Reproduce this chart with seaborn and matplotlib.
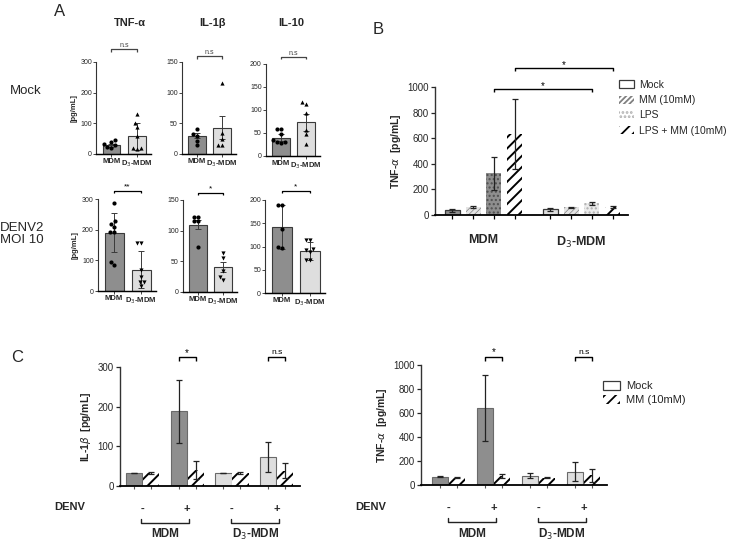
import warnings
warnings.filterwarnings('ignore')
import matplotlib
matplotlib.use('Agg')
import numpy as np
import pandas as pd
import matplotlib.pyplot as plt
import seaborn as sns
from matplotlib.patches import Patch

# ---------------- data ----------------
A_groups = ['MDM', 'D$_3$-MDM']
A_titles = ['TNF-α', 'IL-1β', 'IL-10']
A_ymax = [300, 150, 200]
A_ystep = [100, 50, 50]

mock_means = [[28, 58], [30, 43], [40, 73]]
mock_errs = [[6, 44], [4, 19], [8, 18]]
mock_tnf_mdm = [45, 38, 32, 28, 24, 20]
mock_tnf_d3 = [132, 100, 88, 60, 20, 15, 18]
mock_il1b_mdm = [40, 33, 30, 22, 15]
mock_il1b_d3 = [115, 35, 25, 15, 15]
mock_il10_mdm = [58, 58, 48, 35, 30, 30, 28]
mock_il10_d3 = [117, 113, 93, 57, 48, 25]
mock_sig = ['n.s', 'n.s', 'n.s']

denv_means = [[190, 70], [110, 41], [142, 90]]
denv_errs = [[63, 60], [8, 8], [47, 20]]
denv_tnf_mdm = [288, 228, 220, 210, 192, 192, 95, 85]
denv_tnf_d3 = [155, 155, 68, 45, 30, 28, 15]
denv_il1b_mdm = [122, 122, 115, 115, 73]
denv_il1b_d3 = [63, 55, 35, 25, 20]
denv_il10_mdm = [190, 190, 138, 97, 98]
denv_il10_d3 = [115, 115, 95, 93, 88, 70, 70]
denv_sig = ['**', '*', '*']

B_groups = ['MDM', 'D$_3$-MDM']
B_conds = ['Mock', 'MM (10mM)', 'LPS', 'LPS + MM (10mM)']
B_mdm = [38, 60, 325, 635]
B_d3 = [45, 60, 90, 60]
B_mdm_err = [11, 8, 130, 275]
B_d3_err = [13, 5, 15, 8]

C_cats = ['MDM -', 'MDM +', 'D3 -', 'D3 +']
C_ticklabels = ['-', '+', '-', '+']
C_treat = ['Mock', 'MM (10mM)']
C_il1b_mock = [33, 188, 33, 73]
C_il1b_mm = [33, 40, 33, 38]
C_il1b_mock_err = [1, 79, 0, 38]
C_il1b_mm_err = [2, 23, 2, 19]
C_tnf_mock = [70, 640, 78, 112]
C_tnf_mm = [62, 75, 60, 80]
C_tnf_mock_err = [5, 275, 22, 77]
C_tnf_mm_err = [3, 15, 5, 53]

# ---------------- style ----------------
sns.set_theme(style='ticks')
plt.rcParams['font.family'] = ['Liberation Sans', 'DejaVu Sans']
plt.rcParams['hatch.linewidth'] = 1.3
DARK = '#8e8e8e'
LIGHT = '#dedede'
EDGE = '#3a3a3a'
HATCH_WIDE = '///'
HATCH_DENSE = '//////'

W, H = 733, 543
fig = plt.figure(figsize=(W / 100, H / 100), dpi=100)


def add_ax(x0, x1, ytop, ybot):
    return fig.add_axes([x0 / W, 1 - ybot / H, (x1 - x0) / W, (ybot - ytop) / H])


def ftext(x, y, s, **kw):
    fig.text(x / W, 1 - y / H, s, **kw)


def set_hlw(p, lw):
    if hasattr(p, 'set_hatch_linewidth'):
        try:
            p.set_hatch_linewidth(lw)
        except Exception:
            pass


def bracket(ax, x0, x1, y, h, text, fs, color='black', lw=0.9, dy=0.0):
    tr = ax.get_xaxis_transform()
    ax.plot([x0, x0, x1, x1], [y - h, y, y, y - h], transform=tr, color=color,
            lw=lw, clip_on=False, solid_capstyle='butt')
    ax.text((x0 + x1) / 2, y + dy, text, transform=tr, ha='center', va='bottom',
            fontsize=fs, color=color)


def style_axes(ax, lw=1.0):
    sns.despine(ax=ax)
    ax.spines['left'].set_linewidth(lw)
    ax.spines['bottom'].set_linewidth(lw * 1.3)
    ax.spines['left'].set_color('#333333')
    ax.spines['bottom'].set_color('black')


# ---------------- Panel A ----------------
mock_pts = [(mock_tnf_mdm, mock_tnf_d3), (mock_il1b_mdm, mock_il1b_d3), (mock_il10_mdm, mock_il10_d3)]
denv_pts = [(denv_tnf_mdm, denv_tnf_d3), (denv_il1b_mdm, denv_il1b_d3), (denv_il10_mdm, denv_il10_d3)]
mock_boxes = [(96.2, 151, 62, 154), (182, 236, 62, 154), (266, 320, 64, 156)]
denv_boxes = [(97.8, 156, 199, 291), (183, 237, 200, 292), (265.2, 325.4, 200, 293)]
mock_br = [1.14, 1.06, 1.08]
denv_br = [1.09, 1.08, 1.10]


def draw_A(ax, means, errs, pts, dmarker, ymax, step, sig, bry, ylabel):
    sns.barplot(x=A_groups, y=means, hue=A_groups, order=A_groups, hue_order=A_groups,
                palette=[DARK, LIGHT], legend=False, width=0.7, errorbar=None,
                edgecolor=EDGE, linewidth=0.8, ax=ax)
    ax.errorbar([0, 1], means, yerr=errs, fmt='none', ecolor=EDGE, elinewidth=0.7,
                capsize=2, capthick=0.7, zorder=3)
    sns.swarmplot(x=[A_groups[0]] * len(pts[0]), y=pts[0], order=A_groups, color='black',
                  marker='o', size=3.0, ax=ax, zorder=4)
    sns.swarmplot(x=[A_groups[1]] * len(pts[1]), y=pts[1], order=A_groups, color='black',
                  marker=dmarker, size=3.0, ax=ax, zorder=4)
    ax.set_xlim(-0.6, 1.55)
    ax.set_ylim(0, ymax)
    ax.set_yticks(np.arange(0, ymax + 1, step))
    ax.tick_params(axis='y', labelsize=5, length=2, width=0.6, pad=1)
    ax.tick_params(axis='x', labelsize=5.5, length=2, width=0.6, pad=1)
    for t in ax.get_xticklabels():
        t.set_fontweight('bold')
    ax.set_xlabel('')
    if ylabel:
        ax.set_ylabel('[pg/mL]', fontsize=5.5, fontweight='bold', labelpad=2)
    else:
        ax.set_ylabel('')
    style_axes(ax, 0.8)
    bracket(ax, 0, 1, bry, 0.03, sig, 6 if sig != 'n.s' else 5,
            color='black' if sig != 'n.s' else '#444444', lw=0.9)


for i in range(3):
    ax = add_ax(*mock_boxes[i])
    draw_A(ax, mock_means[i], mock_errs[i], mock_pts[i], '^', A_ymax[i], A_ystep[i],
           mock_sig[i], mock_br[i], i == 0)
    ax = add_ax(*denv_boxes[i])
    draw_A(ax, denv_means[i], denv_errs[i], denv_pts[i], 'v', A_ymax[i], A_ystep[i],
           denv_sig[i], denv_br[i], i == 0)

for x, t in zip([130, 212, 291], A_titles):
    ftext(x, 23, t, ha='center', va='center', fontsize=8, fontweight='bold')
ftext(60, 12, 'A', ha='center', va='center', fontsize=12)
ftext(10, 91, 'Mock', ha='left', va='center', fontsize=9.5)
ftext(0, 234, 'DENV2\nMOI 10', ha='left', va='center', fontsize=9.5, linespacing=1.1)

# ---------------- Panel B ----------------
axB = add_ax(435, 628, 87, 215)
dfB = pd.DataFrame({'group': np.repeat(B_groups, len(B_conds)),
                    'cond': B_conds * len(B_groups),
                    'value': B_mdm + B_d3})
sns.barplot(data=dfB, x='group', y='value', hue='cond', order=B_groups, hue_order=B_conds,
            width=0.85, gap=0.28, errorbar=None, legend=False, ax=axB)
B_errs = [B_mdm_err, B_d3_err]
B_face = {'Mock': [DARK, LIGHT], 'MM (10mM)': ['#e4e4e4', '#e4e4e4'],
          'LPS': [DARK, '#ececec'], 'LPS + MM (10mM)': ['white', 'white']}
B_hatch = {'Mock': None, 'MM (10mM)': HATCH_DENSE, 'LPS': '....', 'LPS + MM (10mM)': HATCH_WIDE}
B_hcol = {'Mock': [EDGE, EDGE], 'MM (10mM)': ['#808080', '#808080'],
          'LPS': ['#505050', '#b0b0b0'], 'LPS + MM (10mM)': ['black', 'black']}
B_lw = {'Mock': 0.9, 'MM (10mM)': 0.0, 'LPS': 0.0, 'LPS + MM (10mM)': 0.0}
B_hlw = {'Mock': 1.0, 'MM (10mM)': 0.5, 'LPS': 1.0, 'LPS + MM (10mM)': 1.4}
bar_x = {}
for ci, cond in enumerate(B_conds):
    cont = axB.containers[ci]
    for gi, p in enumerate(cont.patches):
        p.set_facecolor(B_face[cond][gi])
        p.set_edgecolor(B_hcol[cond][gi])
        p.set_linewidth(B_lw[cond])
        if B_hatch[cond]:
            p.set_hatch(B_hatch[cond])
            set_hlw(p, B_hlw[cond])
        xc = p.get_x() + p.get_width() / 2
        bar_x[(gi, ci)] = xc
        axB.errorbar([xc], [p.get_height()], yerr=[B_errs[gi][ci]], fmt='none', ecolor='#222222',
                     elinewidth=0.9, capsize=2.2, capthick=0.9, zorder=3)
axB.set_ylim(0, 1000)
axB.set_yticks(np.arange(0, 1001, 200))
axB.set_xlim(-0.495, 1.475)
axB.set_xticks([0, 1])
axB.set_xticklabels(B_groups, fontsize=9, fontweight='bold')
axB.set_xticks(sorted(bar_x.values()), minor=True)
axB.tick_params(axis='x', which='major', length=0, pad=14)
axB.tick_params(axis='x', which='minor', length=3, width=0.9, color='black')
axB.tick_params(axis='y', labelsize=7, length=3, width=0.9, pad=1.5)
axB.set_xlabel('')
axB.set_ylabel('TNF-$\\alpha$  [pg/mL]', fontsize=7.5, fontweight='bold', labelpad=3)
style_axes(axB, 1.0)
bracket(axB, bar_x[(0, 2)], bar_x[(1, 2)], 0.982, 0.02, '*', 7, lw=1.0, dy=-0.01)
bracket(axB, bar_x[(0, 3)], bar_x[(1, 3)], 1.146, 0.02, '*', 7, lw=1.0, dy=-0.01)
ftext(378, 30, 'B', ha='center', va='center', fontsize=12)
hB = [Patch(facecolor='white', edgecolor=EDGE, linewidth=0.9, label=B_conds[0]),
      Patch(facecolor='white', edgecolor='#808080', linewidth=0, hatch=HATCH_DENSE, label=B_conds[1]),
      Patch(facecolor='white', edgecolor='#b0b0b0', linewidth=0, hatch='....', label=B_conds[2]),
      Patch(facecolor='white', edgecolor='black', linewidth=0, hatch=HATCH_WIDE, label=B_conds[3])]
for p, w in zip(hB, [1.0, 0.5, 1.0, 1.4]):
    set_hlw(p, w)
fig.legend(handles=hB, loc='upper left', bbox_to_anchor=(619 / W, 1 - 80 / H),
           frameon=False, fontsize=7.5, handlelength=1.4, handleheight=0.8,
           handletextpad=0.5, labelspacing=0.5, borderaxespad=0, borderpad=0)


# ---------------- Panel C ----------------
def draw_C(ax, mock, mm, mock_err, mm_err, ymax, step, ylabel, xlim, brk_y, ub_y, lab_y):
    df = pd.DataFrame({'cat': C_cats * 2, 'treat': np.repeat(C_treat, len(C_cats)),
                       'value': mock + mm})
    sns.barplot(data=df, x='cat', y='value', hue='treat', order=C_cats, hue_order=C_treat,
                width=0.76, gap=0.05, errorbar=None, legend=False, ax=ax)
    errs = [mock_err, mm_err]
    xs = {}
    for ti in range(2):
        for ci, p in enumerate(ax.containers[ti].patches):
            if ti == 0:
                p.set_facecolor(DARK if ci < 2 else LIGHT)
                p.set_edgecolor('#6a6a6a')
                p.set_linewidth(0.8)
            else:
                p.set_facecolor('white')
                p.set_edgecolor('black')
                p.set_linewidth(0)
                p.set_hatch(HATCH_WIDE)
                set_hlw(p, 1.4)
            xc = p.get_x() + p.get_width() / 2
            xs[(ti, ci)] = xc
            ax.errorbar([xc], [p.get_height()], yerr=[errs[ti][ci]], fmt='none', ecolor='#222222',
                        elinewidth=0.9, capsize=2.2, capthick=0.9, zorder=3)
    ax.set_ylim(0, ymax)
    ax.set_yticks(np.arange(0, ymax + 1, step))
    ax.set_xlim(*xlim)
    ax.set_xticks(range(len(C_cats)))
    ax.set_xticklabels(C_ticklabels, fontsize=8, fontweight='bold')
    ax.set_xticks(sorted(xs.values()), minor=True)
    ax.tick_params(axis='x', which='major', length=0, pad=13)
    ax.tick_params(axis='x', which='minor', length=2.5, width=0.8, color='#555555')
    ax.tick_params(axis='y', labelsize=7, length=3, width=0.9, pad=1.5)
    ax.set_xlabel('')
    ax.set_ylabel(ylabel, fontsize=7.5, fontweight='bold', labelpad=3)
    style_axes(ax, 1.0)
    bracket(ax, xs[(0, 1)], xs[(1, 1)], brk_y, 0.03, '*', 7, lw=1.0, dy=-0.005)
    bracket(ax, xs[(0, 3)], xs[(1, 3)], brk_y, 0.03, 'n.s', 6, lw=1.0, dy=0.005)
    tr = ax.get_xaxis_transform()
    for (a, b), lab in zip([(0, 1), (2, 3)], ['MDM', 'D$_3$-MDM']):
        ax.plot([a - 0.02, a - 0.02, b + 0.05, b + 0.05], [ub_y + 0.035, ub_y, ub_y, ub_y + 0.035],
                transform=tr, color='#222222', lw=1.0, clip_on=False)
        ax.text((a + b) / 2 + 0.02, lab_y, lab, transform=tr, ha='center', va='center',
                fontsize=8.5, fontweight='bold')


axC1 = add_ax(120, 300, 367, 486)
draw_C(axC1, C_il1b_mock, C_il1b_mm, C_il1b_mock_err, C_il1b_mm_err, 300, 100,
       'IL-1$\\beta$  [pg/mL]', (-0.5, 3.52), 1.084, -0.311, -0.405)
axC2 = add_ax(421, 607, 365, 485)
draw_C(axC2, C_tnf_mock, C_tnf_mm, C_tnf_mock_err, C_tnf_mm_err, 1000, 200,
       'TNF-$\\alpha$  [pg/mL]', (-0.61, 3.52), 1.067, -0.308, -0.408)
ftext(70, 507, 'DENV', ha='center', va='center', fontsize=8, fontweight='bold')
ftext(371, 507, 'DENV', ha='center', va='center', fontsize=8, fontweight='bold')
ftext(17, 357, 'C', ha='center', va='center', fontsize=12)
hC = [Patch(facecolor='white', edgecolor=EDGE, linewidth=0.9, label=C_treat[0]),
      Patch(facecolor='white', edgecolor='black', linewidth=0, hatch=HATCH_WIDE, label=C_treat[1])]
set_hlw(hC[1], 1.4)
fig.legend(handles=hC, loc='upper left', bbox_to_anchor=(603 / W, 1 - 381 / H),
           frameon=False, fontsize=8, handlelength=1.5, handleheight=0.8,
           handletextpad=0.6, labelspacing=0.38, borderaxespad=0, borderpad=0)

fig.savefig('out.png', dpi=100)
